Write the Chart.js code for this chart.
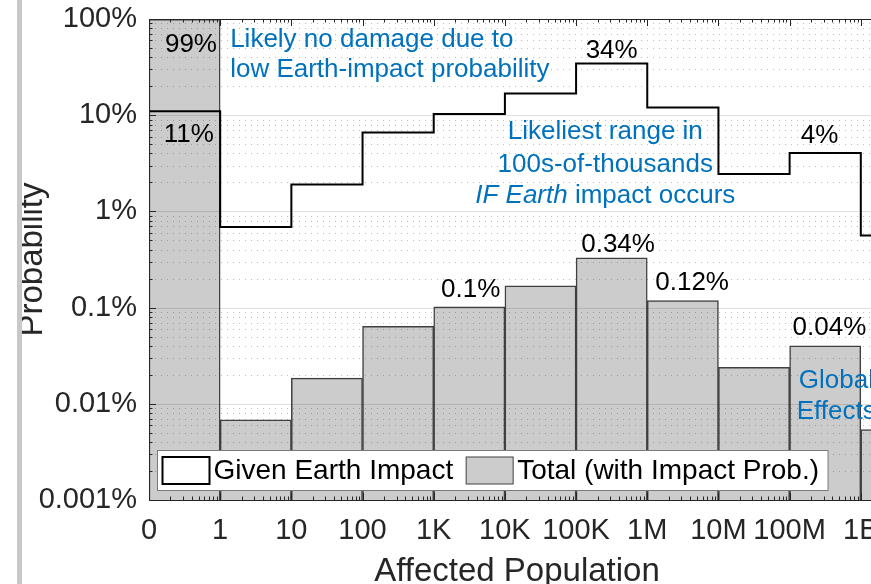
<!DOCTYPE html>
<html>
<head>
<meta charset="utf-8">
<script src="https://cdn.jsdelivr.net/npm/chart.js@4.4.0/dist/chart.umd.min.js"></script>
<style>
  html, body { margin: 0; padding: 0; background: #fff; overflow: hidden; }
  #wrap { position: relative; width: 871px; height: 584px; overflow: hidden; }
  #box { position: absolute; left: 0; top: 0; width: 905px; height: 584px; }
  #edge { position: absolute; left: 17px; top: 0; width: 5px; height: 584px; background: #c8c8c8; }
</style>
</head>
<body>
<div id="wrap">
  <div id="box"><canvas id="chart"></canvas></div>
  <div id="edge"></div>
</div>
<script>
// bin edges of the affected population (one bin between two edges)
const edgeLabels = ['0', '1', '10', '100', '1K', '10K', '100K', '1M', '10M', '100M', '1B'];

// probability (%) per bin, given that the asteroid hits Earth
const givenImpact = [11, 0.69, 1.9, 6.6, 10.3, 16.8, 34.5, 12, 2.45, 4.05, 0.56];

// total probability (%) per bin, including impact probability
const totalProb = [99, 0.0068, 0.0185, 0.064, 0.102, 0.168, 0.33, 0.118, 0.024, 0.04, 0.0054];

const yTicks = [0.001, 0.01, 0.1, 1, 10, 100];
const yTickLabels = ['0.001%', '0.01%', '0.1%', '1%', '10%', '100%'];

const yMin = 0.001, yMax = 100;
const xMax = 10.34;

const FONT = '"Liberation Sans", Arial, Helvetica, sans-serif';
const AXIS_COLOR = '#262626';
const BLUE = '#0072BD';

// text notes on the plot, in data coordinates
const notes = [
    { text: '99%', x: 0.955, y: 45, align: 'right' },
    { text: '11%', x: 0.56, y: 5.3, align: 'center' },
    { text: 'Likely no damage due to', x: 1.14, y: 51, align: 'left', color: BLUE },
    { text: 'low Earth-impact probability', x: 1.14, y: 25, align: 'left', color: BLUE },
    { text: '34%', x: 6.5, y: 39, align: 'center' },
    { text: 'Likeliest range in', x: 6.41, y: 5.65, align: 'center', color: BLUE },
    { text: '100s-of-thousands', x: 6.41, y: 2.59, align: 'center', color: BLUE },
    { parts: [['IF Earth', true], [' impact occurs', false]], x: 6.41, y: 1.23, align: 'center', color: BLUE },
    { text: '4%', x: 9.42, y: 5.1, align: 'center' },
    { text: '0.34%', x: 6.59, y: 0.378, align: 'center' },
    { text: '0.1%', x: 4.52, y: 0.128, align: 'center' },
    { text: '0.12%', x: 7.63, y: 0.152, align: 'center' },
    { text: '0.04%', x: 9.56, y: 0.052, align: 'center' },
    { text: 'Global', x: 9.13, y: 0.0147, align: 'left', color: BLUE },
    { text: 'Effects', x: 9.10, y: 0.00695, align: 'left', color: BLUE }
];

Chart.defaults.font.family = FONT;

// grid, box, ticks, notes and legend drawn over the datasets (MATLAB style)
const overlay = {
    id: 'overlay',
    afterDatasetsDraw(chart) {
        const { ctx, chartArea: a, scales: { x, y } } = chart;
        ctx.save();

        // horizontal grid
        ctx.save();
        ctx.beginPath();
        ctx.rect(a.left, a.top, a.right - a.left, a.bottom - a.top);
        ctx.clip();
        ctx.lineWidth = 1;
        for (let d = yMin; d < yMax * 0.99; d *= 10) {
            ctx.setLineDash([1, 5]);
            ctx.strokeStyle = 'rgba(38,38,38,0.30)';
            for (let k = 2; k <= 9; k++) {
                const py = Math.round(y.getPixelForValue(d * k)) + 0.5;
                ctx.beginPath();
                ctx.moveTo(a.left, py);
                ctx.lineTo(a.right, py);
                ctx.stroke();
            }
        }
        ctx.setLineDash([]);
        ctx.strokeStyle = 'rgba(38,38,38,0.15)';
        yTicks.forEach(v => {
            const py = Math.round(y.getPixelForValue(v)) + 0.5;
            ctx.beginPath();
            ctx.moveTo(a.left, py);
            ctx.lineTo(a.right, py);
            ctx.stroke();
        });
        ctx.restore();

        // ticks
        ctx.strokeStyle = AXIS_COLOR;
        ctx.lineWidth = 1;
        const tick = (x1, y1, x2, y2) => {
            ctx.beginPath();
            ctx.moveTo(x1, y1);
            ctx.lineTo(x2, y2);
            ctx.stroke();
        };
        for (let i = 0; i <= edgeLabels.length; i++) {
            if (i > xMax) break;
            const px = Math.round(x.getPixelForValue(i)) + 0.5;
            tick(px, a.bottom, px, a.bottom - 7);
            tick(px, a.top, px, a.top + 7);
            for (let k = 2; k <= 9; k++) {
                const v = i + Math.log10(k);
                if (v > xMax) break;
                const mx = Math.round(x.getPixelForValue(v)) + 0.5;
                tick(mx, a.bottom, mx, a.bottom - 3.5);
                tick(mx, a.top, mx, a.top + 3.5);
            }
        }
        for (let d = yMin; d <= yMax; d *= 10) {
            const py = Math.round(y.getPixelForValue(d)) + 0.5;
            tick(a.left, py, a.left + 7, py);
            tick(a.right, py, a.right - 7, py);
            if (d < yMax * 0.99) {
                for (let k = 2; k <= 9; k++) {
                    const my = Math.round(y.getPixelForValue(d * k)) + 0.5;
                    tick(a.left, my, a.left + 3.5, my);
                    tick(a.right, my, a.right - 3.5, my);
                }
            }
        }

        // box
        ctx.strokeRect(Math.round(a.left) + 0.5, Math.round(a.top) + 0.5,
            Math.round(a.right - a.left), Math.round(a.bottom - a.top));

        // notes
        ctx.textBaseline = 'alphabetic';
        notes.forEach(n => {
            const px = x.getPixelForValue(n.x);
            const py = y.getPixelForValue(n.y);
            ctx.fillStyle = n.color || '#000';
            if (n.parts) {
                const fonts = n.parts.map(p => (p[1] ? 'italic ' : '') + '26px ' + FONT);
                const widths = n.parts.map((p, i) => { ctx.font = fonts[i]; return ctx.measureText(p[0]).width; });
                const total = widths.reduce((s, w) => s + w, 0);
                let cx = n.align === 'center' ? px - total / 2 : px;
                ctx.textAlign = 'left';
                n.parts.forEach((p, i) => {
                    ctx.font = fonts[i];
                    ctx.fillText(p[0], cx, py);
                    cx += widths[i];
                });
            } else {
                ctx.font = '26px ' + FONT;
                ctx.textAlign = n.align;
                ctx.fillText(n.text, px, py);
            }
        });

        // legend
        const ds = chart.data.datasets;
        ctx.font = '28px ' + FONT;
        const sw = 47, sh = 27, boxH = 40;
        const bx = Math.round(a.left + 8) + 0.5;
        const by = Math.round(a.bottom - 10 - boxH) + 0.5;
        let width = 5;
        ds.forEach((d, i) => {
            width += sw + 4 + ctx.measureText(d.label).width + (i < ds.length - 1 ? 13 : 9);
        });
        ctx.fillStyle = '#fff';
        ctx.fillRect(bx, by, width, boxH);
        ctx.strokeStyle = '#7a7a7a';
        ctx.lineWidth = 1;
        ctx.strokeRect(bx, by, width, boxH);
        let cx = bx + 5;
        const sy = by + (boxH - sh) / 2;
        ds.forEach(d => {
            if (d.type === 'line') {
                ctx.fillStyle = '#fff';
                ctx.fillRect(cx, sy, sw, sh);
                ctx.strokeStyle = d.borderColor;
                ctx.lineWidth = 2;
            } else {
                ctx.fillStyle = d.backgroundColor;
                ctx.fillRect(cx, sy, sw, sh);
                ctx.strokeStyle = d.borderColor;
                ctx.lineWidth = 1;
            }
            ctx.strokeRect(cx, sy, sw, sh);
            cx += sw + 4;
            ctx.fillStyle = '#000';
            ctx.textAlign = 'left';
            ctx.textBaseline = 'middle';
            ctx.fillText(d.label, cx, by + boxH / 2 + 1);
            cx += ctx.measureText(d.label).width + 13;
        });

        ctx.restore();
    }
};

const linePoints = [{ x: 0, y: yMin }]
    .concat(givenImpact.map((v, i) => ({ x: i, y: v })))
    .concat([{ x: givenImpact.length, y: givenImpact[givenImpact.length - 1] }]);
const barPoints = totalProb.map((v, i) => ({ x: i + 0.5, y: v }));

const ctx = document.getElementById('chart').getContext('2d');
new Chart(ctx, {
    type: 'bar',
    data: {
        datasets: [
            {
                type: 'line',
                label: 'Given Earth Impact',
                data: linePoints,
                borderColor: '#000',
                borderWidth: 2,
                pointRadius: 0,
                stepped: 'before',
                fill: false
            },
            {
                type: 'bar',
                label: 'Total (with Impact Prob.)',
                data: barPoints,
                backgroundColor: '#cccccc',
                borderColor: '#404040',
                borderWidth: 1.5,
                borderSkipped: 'bottom',
                barPercentage: 1,
                categoryPercentage: 1
            }
        ]
    },
    plugins: [overlay],
    options: {
        responsive: true,
        maintainAspectRatio: false,
        animation: false,
        devicePixelRatio: 1,
        layout: { padding: { top: 19, right: 20, bottom: 0, left: 0 } },
        plugins: {
            legend: { display: false },
            tooltip: { enabled: false }
        },
        scales: {
            x: {
                type: 'linear',
                offset: false,
                min: 0,
                max: xMax,
                afterBuildTicks: s => { s.ticks = edgeLabels.map((_, i) => ({ value: i })); },
                afterFit: s => { s.height = 84; s.paddingLeft = 0; s.paddingRight = 0; },
                grid: { display: false, drawTicks: false, offset: false },
                border: { display: false },
                ticks: {
                    autoSkip: false,
                    maxRotation: 0,
                    padding: 14,
                    color: AXIS_COLOR,
                    font: { size: 29 },
                    callback: v => edgeLabels[v]
                },
                title: {
                    display: true,
                    text: 'Affected Population',
                    color: AXIS_COLOR,
                    font: { size: 33, lineHeight: 1 },
                    padding: { top: 0, bottom: -4 }
                }
            },
            y: {
                type: 'logarithmic',
                min: yMin,
                max: yMax,
                afterBuildTicks: s => { s.ticks = yTicks.map(v => ({ value: v })); },
                afterFit: s => { s.width = 149; s.paddingTop = 0; s.paddingBottom = 0; },
                grid: { display: false, drawTicks: false },
                border: { display: false },
                ticks: {
                    padding: 12,
                    color: AXIS_COLOR,
                    font: { size: 29 },
                    callback: (v, i) => yTickLabels[i]
                },
                title: {
                    display: true,
                    text: 'Probability',
                    color: AXIS_COLOR,
                    font: { size: 33, lineHeight: 1 },
                    padding: { top: 16, bottom: 0 }
                }
            }
        }
    }
});
</script>
</body>
</html>
